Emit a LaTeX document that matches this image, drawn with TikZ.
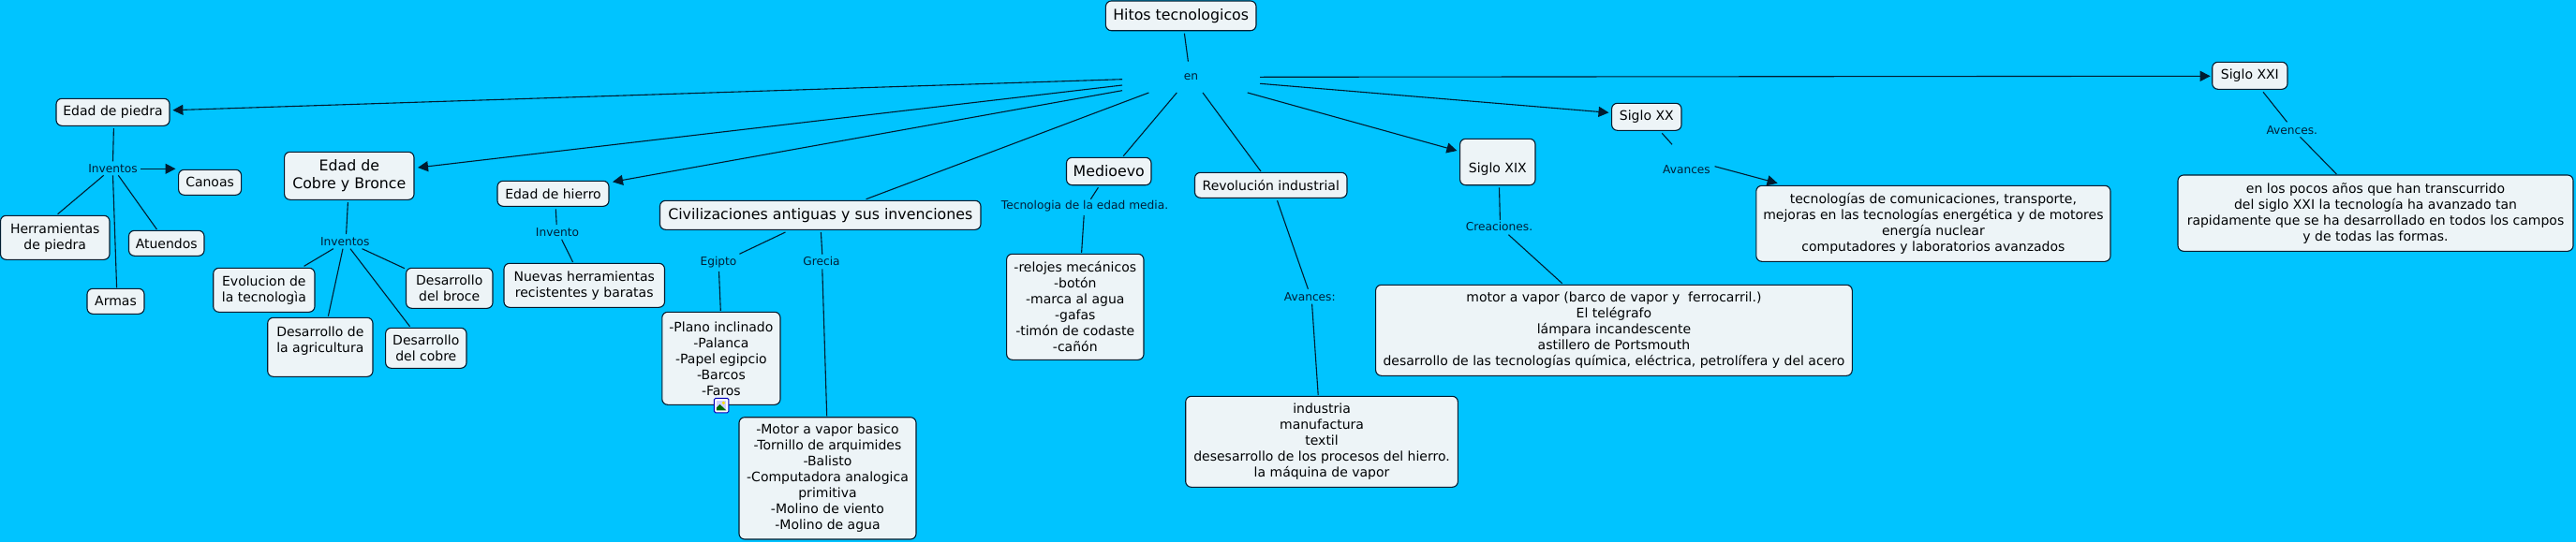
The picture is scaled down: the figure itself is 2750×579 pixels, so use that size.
\documentclass[tikz,border=0pt]{standalone}
\usepackage{fontspec}
\setmainfont{DejaVu Sans}
\usetikzlibrary{arrows.meta,calc}
\definecolor{bgblue}{RGB}{0,196,255}
\definecolor{boxfill}{RGB}{237,244,247}
\definecolor{edge}{RGB}{0,28,48}
\definecolor{lbl}{RGB}{0,30,55}
\tikzset{
  cbox/.style={draw=edge,fill=boxfill,line width=1.1pt,rounded corners=6pt,inner sep=0pt,align=center,text=black!92!edge,font=\fontsize{14}{17}\selectfont},
  bigbox/.style={cbox,font=\fontsize{15.8}{19.3}\selectfont},
  lab/.style={inner sep=0pt,align=center,text=lbl,font=\fontsize{12.2}{14}\selectfont},
  lnk/.style={draw=edge,line width=1.1pt},
  arr/.style={lnk,-{Triangle[length=11pt,width=11pt]}}
}
\newcommand{\lk}[5][lnk]{\draw[#1] ($(#2)+(#3)$) -- ($(#4)+(#5)$);}
\begin{document}
\begin{tikzpicture}[x=1pt,y=-1pt]
\path[fill=bgblue,use as bounding box] (0,0) rectangle (2750,579);
% concepts
\node[bigbox,minimum width=160.6pt,minimum height=31.7pt] (hitos) at (1260.7,16.85) {Hitos tecnologicos};
\node[lab,minimum width=147pt,minimum height=33pt] (en) at (1271.5,82.5) {en};
\node[cbox,minimum width=121pt,minimum height=29pt] (piedra) at (120.5,119.8) {Edad de piedra};
\node[lab] (inva) at (120.5,179.7) {Inventos};
\node[cbox,minimum width=67pt,minimum height=27pt] (canoas) at (224.1,194.8) {Canoas};
\node[cbox,minimum width=116.5pt,minimum height=47pt] (herr) at (58.75,253.8) {Herramientas\\de piedra};
\node[cbox,minimum width=80.5pt,minimum height=27pt] (atu) at (177.75,259.8) {Atuendos};
\node[cbox,minimum width=61pt,minimum height=27pt] (armas) at (123.5,321.8) {Armas};
\node[bigbox,minimum width=138.4pt,minimum height=51pt] (cobre) at (372.8,187.8) {Edad de\\Cobre y Bronce};
\node[lab] (invb) at (368.3,257.7) {Inventos};
\node[cbox,minimum width=108.3pt,minimum height=47pt] (evol) at (281.85,309.8) {Evolucion de\\la tecnologìa};
\node[cbox,minimum width=112.3pt,minimum height=63pt,anchor=center] (agri) at (341.85,370.8) {Desarrollo de\\la agricultura\\\ };
\node[cbox,minimum width=86.4pt,minimum height=43pt] (cobred) at (454.8,371.8) {Desarrollo\\del cobre};
\node[cbox,minimum width=92.5pt,minimum height=43pt] (broce) at (479.75,307.8) {Desarrollo\\del broce};
\node[cbox,minimum width=119pt,minimum height=27pt] (hierro) at (590.5,206.8) {Edad de hierro};
\node[lab] (invc) at (595,247.7) {Invento};
\node[cbox,minimum width=171.5pt,minimum height=47pt] (nuevas) at (623.75,304.8) {Nuevas herramientas\\recistentes y baratas};
\node[bigbox,minimum width=342.5pt,minimum height=31pt] (civil) at (875.75,229.8) {Civilizaciones antiguas y sus invenciones};
\node[lab] (egipto) at (767,279.7) {Egipto};
\node[lab] (grecia) at (877,278.7) {Grecia};
\node[cbox,minimum width=126.2pt,minimum height=99pt] (plano) at (769.9,382.8) {-Plano inclinado\\-Palanca\\-Papel egipcio\\-Barcos\\-Faros};
\node[cbox,minimum width=189pt,minimum height=130.3pt] (grbox) at (883.5,510.85) {-Motor a vapor basico\\-Tornillo de arquimides\\-Balisto\\-Computadora analogica\\primitiva\\-Molino de viento\\-Molino de agua};
\node[bigbox,minimum width=90.5pt,minimum height=29.4pt] (medio) at (1183.75,183) {Medioevo};
\node[lab] (tecl) at (1158,220) {Tecnologia de la edad media.};
\node[cbox,minimum width=146.4pt,minimum height=113pt] (relojes) at (1147.8,327.8) {-relojes mecánicos\\-botón\\-marca al agua\\-gafas\\-timón de codaste\\-cañón};
\node[cbox,minimum width=162.5pt,minimum height=27pt] (revol) at (1356.75,197.8) {Revolución industrial};
\node[lab] (avan) at (1398.3,316.7) {Avances:};
\node[cbox,minimum width=290.7pt,minimum height=97pt] (indus) at (1411.05,471.8) {industria\\manufactura\\textil\\desesarrollo de los procesos del hierro.\\la máquina de vapor};
\node[cbox,minimum width=80.4pt,minimum height=49.4pt] (xix) at (1598.8,173) {\strut\\\strut Siglo XIX};
\node[lab] (crea) at (1600.5,241.7) {Creaciones.};
\node[cbox,minimum width=508.7pt,minimum height=97pt] (vapor) at (1722.95,352.8) {motor a vapor (barco de vapor y\ \ ferrocarril.)\\El telégrafo\\lámpara incandescente\\astillero de Portsmouth\\desarrollo de las tecnologías química, eléctrica, petrolífera y del acero};
\node[cbox,minimum width=74.4pt,minimum height=29pt] (xx) at (1757.8,124.8) {Siglo XX};
\node[lab] (avz) at (1800.5,180.7) {Avances};
\node[cbox,minimum width=378.2pt,minimum height=81pt] (tecb) at (2063.9,238.8) {tecnologías de comunicaciones, transporte,\\mejoras en las tecnologías energética y de motores\\energía nuclear\\computadores y laboratorios avanzados};
\node[cbox,minimum width=80.3pt,minimum height=29pt] (xxi) at (2401.85,80.8) {Siglo XXI};
\node[lab] (ave) at (2446.8,138.7) {Avences.};
\node[cbox,minimum width=422pt,minimum height=81.3pt] (pocos) at (2536,227.65) {en los pocos años que han transcurrido\\del siglo XXI la tecnología ha avanzado tan\\rapidamente que se ha desarrollado en todos los campos\\y de todas las formas.};
% image icon under the Egipto box
\begin{scope}[shift={(plano.south)}]
\draw[draw=blue!75!black,fill=white,line width=1pt,rounded corners=1.5pt] (-7.5,-7.5) rectangle (8,8);
\fill[blue!18!white] (-5,-5) rectangle (5.5,5.5);
\fill[green!40!black] (-5,5.5) -- (-5,2.5) -- (-1.5,-1) -- (5.5,5.5) -- cycle;
\fill[yellow!85!orange] (2.5,-2.5) circle (1.8pt);
\end{scope}
% connectors
\lk{hitos}{3.7,18.85}{en}{-3.1,-16.8}
\lk[arr]{en}{-73.5,2.2}{piedra}{63.9,-2.1}
\lk[arr]{en}{-73.5,8.5}{cobre}{73.2,-8.8}
\lk[arr]{en}{-73.5,14.2}{hierro}{63.5,-12.5}
\lk{en}{-45.1,16.5}{civil}{48.85,-17.1}
\lk{en}{-15.2,16.5}{medio}{15.45,-16.3}
\lk{en}{12.5,16.5}{revol}{-10.75,-14.8}
\lk[arr]{en}{60.3,16.5}{xix}{-43.4,-12}
\lk[arr]{en}{73.7,6.8}{xx}{-40.3,-4.5}
\lk[arr]{en}{73.7,-0.2}{xxi}{-42.15,0.5}
\lk{piedra}{0.9,17.2}{inva}{0,-7.4}
\lk[arr]{inva}{29.5,0.6}{canoas}{-36.6,-14.5}
\lk{inva}{-9.8,7.6}{herr}{2.85,-25.1}
\lk{inva}{5.8,7.6}{atu}{-10.35,-14.8}
\lk{inva}{0,7.6}{armas}{1.1,-14.5}
\lk{cobre}{-1.4,28.2}{invb}{1.3,-7.7}
\lk{invb}{-12.5,8}{evol}{42.75,-25.5}
\lk{invb}{-2.3,8}{agri}{8.55,-33.1}
\lk{invb}{5.7,8}{cobred}{-17.3,-23.1}
\lk{invb}{18.3,8}{broce}{-47.75,-21.1}
\lk{hierro}{2.8,16.5}{invc}{-0.8,-7.7}
\lk{invc}{4.6,8}{nuevas}{-12.15,-24.8}
\lk{civil}{-37.25,18.2}{egipto}{22.4,-8.4}
\lk{egipto}{0.5,10.3}{plano}{-0.6,-50.8}
\lk{civil}{0.65,18.2}{grecia}{0.8,-7}
\lk{grecia}{0.8,8.6}{grbox}{-0.8,-66.55}
\lk{medio}{-11.35,17.3}{tecl}{6.4,-7.3}
\lk{tecl}{-0.8,10}{relojes}{6.8,-57.8}
\lk{revol}{6.75,16.5}{avan}{-1.9,-8}
\lk{avan}{2.3,8}{indus}{-3.85,-49.8}
\lk{xix}{1.7,27.3}{crea}{0.9,-6.7}
\lk{crea}{9.9,9}{vapor}{-55.25,-50.1}
\lk{xx}{16.5,17.5}{avz}{-15.5,-26.4}
\lk[arr]{avz}{30.1,-3}{tecb}{-166.3,-43.1}
\lk{xxi}{14.15,17.5}{ave}{-5.3,-8.4}
\lk{ave}{8.7,7.6}{pocos}{-41.6,-41.65}
\end{tikzpicture}
\end{document}
